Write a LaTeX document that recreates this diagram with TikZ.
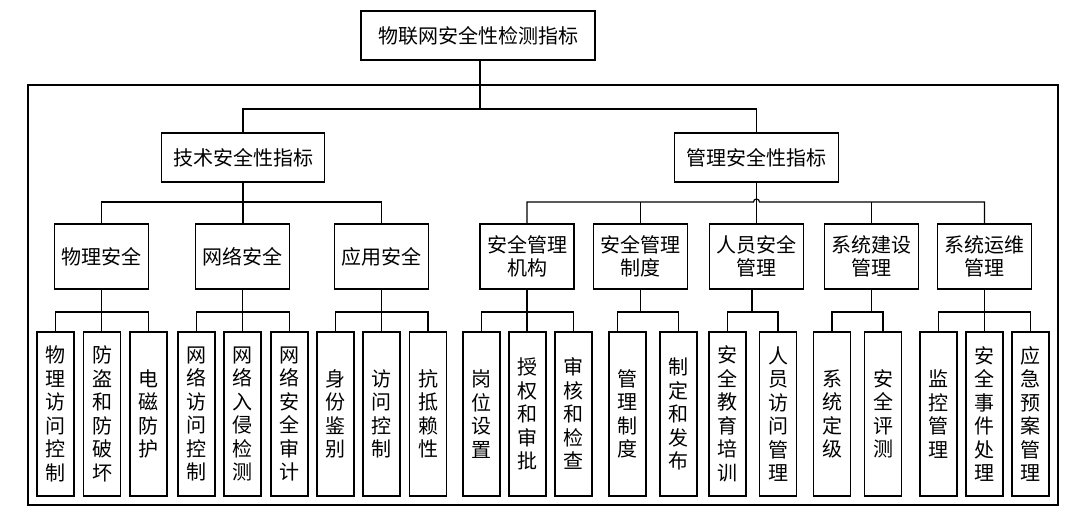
\documentclass[tikz,border=0pt]{standalone}
\usepackage{fontspec}
\newfontfamily\cjk{Noto Sans CJK SC}
\usetikzlibrary{calc}
\begin{document}
\begin{tikzpicture}[x=1pt,y=-1pt,
  box/.style={draw, line width=1.5pt, inner sep=0pt, align=center,
    font=\cjk\fontsize{20}{23.5}\selectfont},
  topbox/.style={box, minimum height=49pt},
  midbox/.style={box, minimum width=94pt, minimum height=65pt},
  leaf/.style={box, minimum width=37pt, minimum height=164pt},
  con/.style={line width=1.2pt}]
\useasboundingbox (0,0) rectangle (1080,516);
\fill[white] (0,0) rectangle (1080,516);
% outer frame
\draw[line width=1.2pt] (28,85) rectangle (1058,505);
% top
\node[topbox, minimum width=234pt] (root) at (478,35.5) {物联网安全性检测指标};
\node[topbox, minimum width=163pt] (tech) at (243,157.5) {技术安全性指标};
\node[topbox, minimum width=164pt] (mgmt) at (756.5,157.5) {管理安全性指标};
% level 2
\node[midbox] (t1) at (101.5,256.5) {物理安全};
\node[midbox] (t2) at (242.5,256.5) {网络安全};
\node[midbox] (t3) at (381.5,256.5) {应用安全};
\node[midbox] (m1) at (527,256.5) {安全管理\\机构};
\node[midbox] (m2) at (640.5,256.5) {安全管理\\制度};
\node[midbox] (m3) at (756.5,256.5) {人员安全\\管理};
\node[midbox] (m4) at (871.5,256.5) {系统建设\\管理};
\node[midbox] (m5) at (984.5,256.5) {系统运维\\管理};
% leaves
\node[leaf] (a1) at (55.5,414) {物\\理\\访\\问\\控\\制};
\node[leaf] (a2) at (102,414) {防\\盗\\和\\防\\破\\坏};
\node[leaf] (a3) at (148.5,414) {电\\磁\\防\\护};
\node[leaf] (b1) at (196.5,414) {网\\络\\访\\问\\控\\制};
\node[leaf] (b2) at (242.5,414) {网\\络\\入\\侵\\检\\测};
\node[leaf] (b3) at (289.5,414) {网\\络\\安\\全\\审\\计};
\node[leaf] (c1) at (335.5,414) {身\\份\\鉴\\别};
\node[leaf] (c2) at (381.5,414) {访\\问\\控\\制};
\node[leaf] (c3) at (428,414) {抗\\抵\\赖\\性};
\node[leaf] (d1) at (481.5,414) {岗\\位\\设\\置};
\node[leaf] (d2) at (527.5,414) {授\\权\\和\\审\\批};
\node[leaf] (d3) at (573.5,414) {审\\核\\和\\检\\查};
\node[leaf] (e1) at (627.5,414) {管\\理\\制\\度};
\node[leaf] (e2) at (678.5,414) {制\\定\\和\\发\\布};
\node[leaf] (f1) at (727.5,414) {安\\全\\教\\育\\培\\训};
\node[leaf] (f2) at (778,414) {人\\员\\访\\问\\管\\理};
\node[leaf] (g1) at (832,414) {系\\统\\定\\级};
\node[leaf] (g2) at (883,414) {安\\全\\评\\测};
\node[leaf] (h1) at (938.5,414) {监\\控\\管\\理};
\node[leaf] (h2) at (984.5,414) {安\\全\\事\\件\\处\\理};
\node[leaf] (h3) at (1030.5,414) {应\\急\\预\\案\\管\\理};
% bus levels
\coordinate (bus0) at (480,109);
\coordinate (bus1) at (0,202);
\coordinate (bus2) at (0,312);
% top connectors
\draw[con] (root.south -| bus0) -- (bus0);
\draw[con] (tech.north) |- (mgmt.north |- bus0) -- (mgmt.north);
% technical branch
\draw[con] (tech.south) -- (tech.south |- t2.north);
\draw[con] (t1.north) |- (t3.north |- bus1) -- (t3.north);
% management branch
\draw[con] (mgmt.south) -- (mgmt.south |- m3.north);
\draw[con] (m1.north) |- ($(mgmt.south |- bus1)+(-3,0)$) arc (180:360:3) -| (m5.north);
\draw[con] (m2.north) -- (m2.north |- bus1);
\draw[con] (m4.north) -- (m4.north |- bus1);
% leaf groups
\draw[con] (t1.south) -- (t1.south |- a2.north);
\draw[con] (a1.north) |- (a3.north |- bus2) -- (a3.north);
\draw[con] (t2.south) -- (t2.south |- b2.north);
\draw[con] (b1.north) |- (b3.north |- bus2) -- (b3.north);
\draw[con] (t3.south) -- (t3.south |- c2.north);
\draw[con] (c1.north) |- (c3.north |- bus2) -- (c3.north);
\draw[con] (m1.south) -- (m1.south |- d2.north);
\draw[con] (d1.north) |- (d3.north |- bus2) -- (d3.north);
\draw[con] (m2.south) -- (m2.south |- bus2);
\draw[con] ([xshift=-10pt]e1.north) |- (e2.north |- bus2) -- (e2.north);
\draw[con] ([xshift=-4.5pt]m3.south) -- ([xshift=-4.5pt]m3.south |- bus2);
\draw[con] (f1.north) |- (f2.north |- bus2) -- (f2.north);
\draw[con] (m4.south) -- (m4.south |- bus2);
\draw[con] (g1.north) |- (g2.north |- bus2) -- (g2.north);
\draw[con] (m5.south) -- (m5.south |- h2.north);
\draw[con] (h1.north) |- (h3.north |- bus2) -- (h3.north);
\end{tikzpicture}
\end{document}
